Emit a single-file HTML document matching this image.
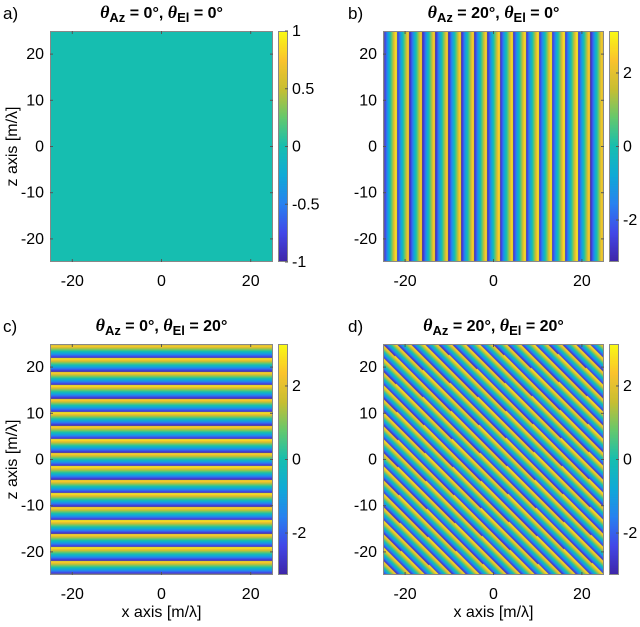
<!DOCTYPE html>
<html><head><meta charset="utf-8">
<style>
body{margin:0;background:#fff;width:640px;height:627px;overflow:hidden;position:relative;font-family:"Liberation Sans",sans-serif}
canvas{position:absolute}
svg{position:absolute;left:0;top:0}
</style></head>
<body>
<svg id="s" width="640" height="627"></svg>
<script>
// data
const panelLetters = ["a)","b)","c)","d)"];
const azimuthDeg = [0, 20, 0, 20];
const elevationDeg = [0, 0, 20, 20];
const xTicks = [-20, 0, 20];
const zTicks = [-20, -10, 0, 10, 20];
const cbTicksA = [-1, -0.5, 0, 0.5, 1];
const cbTicksPhase = [-2, 0, 2];

const layout = [
 {x:50,y:31,w:223,h:231,cbx:278,left:true,bottom:false},
 {x:383,y:31,w:221,h:231,cbx:609,left:false,bottom:false},
 {x:50,y:344,w:223,h:231,cbx:278,left:true,bottom:true},
 {x:383,y:344,w:221,h:231,cbx:609,left:false,bottom:true}
];
const stops=[[0,[62,38,168]],[0.125,[66,72,232]],[0.25,[40,130,240]],[0.375,[15,170,215]],[0.5,[22,190,176]],[0.625,[100,200,110]],[0.75,[200,190,50]],[0.875,[250,195,45]],[1,[249,250,20]]];
function cmap(t){t=Math.max(0,Math.min(1,t));for(let i=1;i<stops.length;i++){if(t<=stops[i][0]){const a=stops[i-1],b=stops[i],f=(t-a[0])/(b[0]-a[0]);return a[1].map((v,k)=>Math.round(v+(b[1][k]-v)*f));}}return stops[stops.length-1][1];}
const svg=document.getElementById('s');const NS="http://www.w3.org/2000/svg";
function el(tag,attrs,txt){const e=document.createElementNS(NS,tag);for(const k in attrs)e.setAttribute(k,attrs[k]);if(txt!==undefined)e.textContent=txt;svg.appendChild(e);return e;}
function mkCanvas(x,y,w,h){const c=document.createElement('canvas');c.width=w;c.height=h;c.style.left=x+'px';c.style.top=y+'px';document.body.insertBefore(c,svg);return c;}
const PI=Math.PI;
layout.forEach((L,i)=>{
 const az=azimuthDeg[i]*PI/180, elv=elevationDeg[i]*PI/180;
 const kx=Math.sin(az)*Math.cos(elv), kz=Math.sin(elv);
 const constant = (kx===0 && kz===0);
 const c=mkCanvas(L.x,L.y,L.w,L.h);
 
 
 const ctx=c.getContext('2d');const img=ctx.createImageData(L.w,L.h);
 const xs=v=>L.x+(v+25)/50*L.w, zs=v=>L.y+(25-v)/50*L.h;
 for(let py=0;py<L.h;py++){const z=25-(py+0.5)/L.h*50;
  for(let px=0;px<L.w;px++){const x=-25+(px+0.5)/L.w*50;
   let ph=2*PI*(kx*x+kz*z);ph=((ph+PI)%(2*PI)+2*PI)%(2*PI)-PI;
   const t=constant?0.5:(ph+PI)/(2*PI);const col=cmap(t);const o=(py*L.w+px)*4;
   img.data[o]=col[0];img.data[o+1]=col[1];img.data[o+2]=col[2];img.data[o+3]=255;}}
 ctx.putImageData(img,0,0);
 const cb=mkCanvas(L.cbx,L.y,10,L.h);
 
 
 const cc=cb.getContext('2d');for(let py=0;py<L.h;py++){const col=cmap(1-py/(L.h-1));cc.fillStyle=`rgb(${col})`;cc.fillRect(0,py,10,1);}
 el('rect',{x:L.x+0.5,y:L.y+0.5,width:L.w-1,height:L.h-1,fill:'none',stroke:'#888','stroke-width':1,});
 el('rect',{x:L.cbx+0.5,y:L.y+0.5,width:9,height:L.h-1,fill:'none',stroke:'#888','stroke-width':1,});
 xTicks.forEach(v=>{const X=xs(v);
  el('line',{x1:X,x2:X,y1:L.y,y2:L.y+3,stroke:'#555'});el('line',{x1:X,x2:X,y1:L.y+L.h,y2:L.y+L.h-3,stroke:'#555'});
  el('text',{x:X,y:L.y+L.h+24,'font-size':16,'text-anchor':'middle',},v);});
 zTicks.forEach(v=>{const Y=zs(v);
  el('line',{x1:L.x,x2:L.x+3,y1:Y,y2:Y,stroke:'#555'});el('line',{x1:L.x+L.w,x2:L.x+L.w-3,y1:Y,y2:Y,stroke:'#555'});
  el('text',{x:L.x-6,y:Y+5,'font-size':16,'text-anchor':'end',},v);});
 const cbt=i===0?cbTicksA:cbTicksPhase, lo=i===0?-1:-PI, hi=i===0?1:PI;
 cbt.forEach(v=>{const Y=L.y+(hi-v)/(hi-lo)*L.h;
  el('line',{x1:L.cbx+7,x2:L.cbx+10,y1:Y,y2:Y,stroke:'#555'});
  el('text',{x:L.cbx+14,y:Y+5,'font-size':16,},v);});
 const cx=L.x+L.w/2;
 const t=el('text',{x:cx,y:L.y-13,'font-size':16,'font-weight':'bold','text-anchor':'middle',});
 t.innerHTML=`<tspan font-style="italic" font-family="Liberation Serif" font-size="18">θ</tspan><tspan dy="4" font-size="13">Az</tspan><tspan dy="-4"> = ${azimuthDeg[i]}°, </tspan><tspan font-style="italic" font-family="Liberation Serif" font-size="18">θ</tspan><tspan dy="4" font-size="13">El</tspan><tspan dy="-4"> = ${elevationDeg[i]}°</tspan>`;
 el('text',{x:i%2?348:3,y:L.y-12,'font-size':17,},panelLetters[i]);
 if(L.bottom) el('text',{x:cx,y:617,'font-size':16,'text-anchor':'middle',},'x axis [m/λ]');
 if(L.left){const yc=L.y+L.h/2;el('text',{x:17,y:yc,'font-size':16,'text-anchor':'middle',transform:`rotate(-90 17 ${yc})`,},'z axis [m/λ]');}
});
</script>
</body></html>
